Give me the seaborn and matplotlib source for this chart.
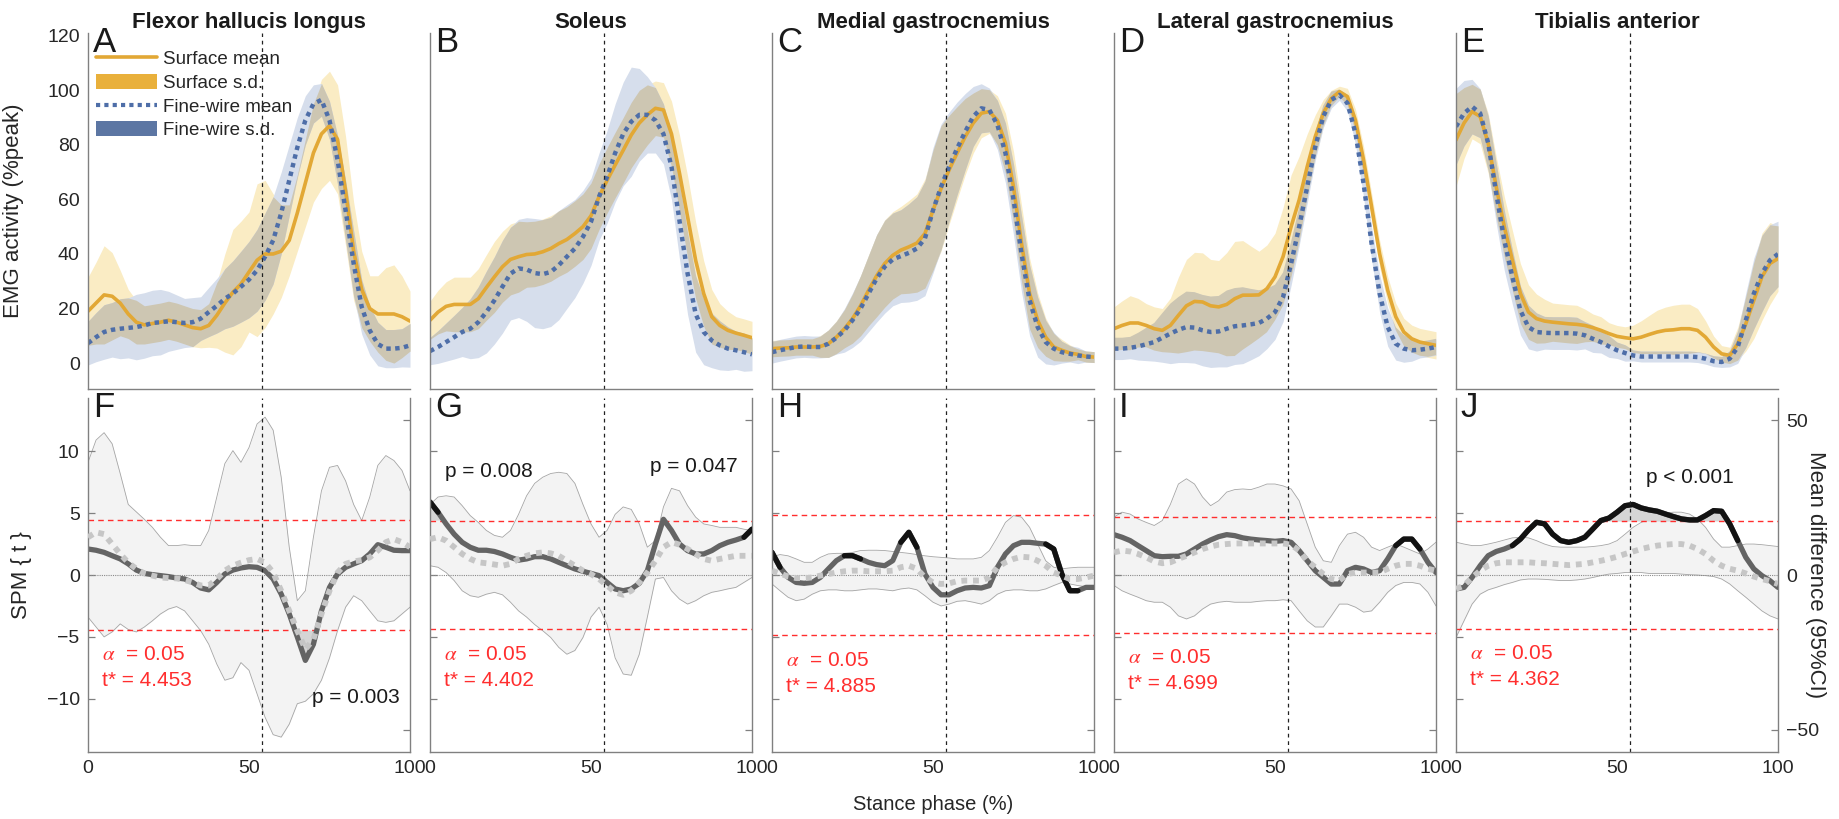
import numpy as np
import matplotlib
matplotlib.use("Agg")
import matplotlib.pyplot as plt
import seaborn as sns
from matplotlib.lines import Line2D
from matplotlib.patches import Patch

# ---------------- data ----------------
stance = np.array([0, 2.5, 5, 7.5, 10, 12.5, 15, 17.5, 20, 22.5, 25, 27.5, 30, 32.5, 35, 37.5, 40,
                   42.5, 45, 47.5, 50, 52.5, 55, 57.5, 60, 62.5, 65, 67.5, 70, 72.5, 75, 77.5, 80,
                   82.5, 85, 87.5, 90, 92.5, 95, 97.5, 100])

muscles = ["Flexor hallucis longus", "Soleus", "Medial gastrocnemius",
           "Lateral gastrocnemius", "Tibialis anterior"]
top_letters = ["A", "B", "C", "D", "E"]
bottom_letters = ["F", "G", "H", "I", "J"]
toe_off = 54

# surface / fine-wire EMG (%peak)
surf_mean_fhl = [19, 22, 25, 24.5, 22, 18, 15, 14, 14.5, 15, 15.7, 15, 14, 13, 12.6, 13.8, 17.5, 22, 26, 29, 33.4, 37.7, 40, 40, 41, 45, 55, 66, 77, 84, 87, 82, 63, 41, 27, 20, 18, 18, 18, 17, 15.4]
surf_sd_fhl = [12.5, 15, 18, 16, 12, 9, 8, 7, 7, 7, 7, 7, 7, 7, 7, 8, 12, 18, 23, 23, 22, 28, 27, 22, 17, 13, 14, 16, 18, 20, 20, 20, 20, 18, 14, 12, 14, 17, 18, 15, 11]
fw_mean_fhl = [7.3, 9.5, 11.4, 12.2, 12.6, 12.9, 13.2, 13.8, 14.7, 15, 15.3, 15, 14.7, 15, 16.3, 18.7, 21, 23.6, 25.5, 28, 30.6, 34, 39, 45, 55, 67, 79, 89, 95, 96.5, 89, 74.5, 56, 36.5, 20.6, 12, 7, 5.3, 5.3, 5.6, 6.5]
fw_sd_fhl = [8, 9, 10, 10, 11, 11, 12, 12, 12, 12, 11, 10, 9, 9, 8, 9, 10, 11, 12, 13, 14, 15, 16, 16, 15, 13, 11, 9, 7, 6, 7, 9, 11, 12, 10, 9, 8, 7, 7, 7, 8]

surf_mean_sol = [15.7, 18.7, 20.8, 21.5, 21.5, 21.5, 23.6, 27.7, 31.6, 35.3, 38, 39, 39.8, 40, 40.8, 42, 43.8, 45.3, 47.5, 50, 54, 61, 67, 72.6, 78, 83.6, 88, 91, 93.4, 92.8, 84, 69.5, 53.6, 37.7, 25.5, 17, 13.8, 12, 11, 10.2, 9.3]
surf_sd_sol = [7, 8, 9, 10, 10, 10, 11, 12, 13, 13, 13, 13, 12, 12, 12, 12, 12, 12, 12, 12, 12, 12, 12, 12, 12, 12, 12, 11, 10, 10, 12, 14, 15, 14, 12, 10, 8, 7, 6, 6, 6]
fw_mean_sol = [4.4, 5.9, 7.7, 9.5, 11.4, 12.6, 15, 18.7, 23, 28, 32.8, 34.7, 34.3, 33, 32.6, 33.4, 35.9, 39, 42, 46.3, 51.8, 61, 68.3, 77, 84, 88.5, 91, 91, 89, 84, 72, 52, 32.8, 18, 11.4, 8.3, 6.5, 5.3, 4.7, 4, 3.2]
fw_sd_sol = [5, 6, 7, 8, 9, 11, 13, 15, 16, 17, 17, 18, 19, 20, 20, 20, 20, 19, 18, 17, 16, 16, 17, 18, 19, 20, 17, 14, 12, 11, 12, 14, 15, 14, 12, 10, 9, 8, 7, 7, 6]

surf_mean_mg = [5.3, 5.5, 5.6, 5.9, 5.9, 5.9, 6.1, 7.1, 9.5, 12.6, 16.3, 21, 26.7, 32, 36.5, 39.5, 41.4, 42.6, 44, 47.5, 56, 64, 70.8, 77, 83, 88, 91.6, 92.2, 89, 80.6, 64.6, 43.8, 25.5, 15.7, 9.5, 5.9, 4.7, 3.7, 3.2, 2.4, 2.2]
surf_sd_mg = [3, 3, 3, 3, 3, 3, 4, 5, 6, 7, 9, 11, 13, 15, 16, 16, 16, 17, 18, 20, 22, 23, 20, 17, 14, 11, 9, 8, 9, 11, 13, 14, 13, 10, 7, 5, 4, 3, 2, 2, 2]
fw_mean_mg = [4, 4.7, 5.3, 5.9, 6.1, 5.9, 5.9, 7.1, 9.3, 12, 15.7, 20, 25.5, 31, 35.3, 38, 39.2, 40.4, 42, 45.7, 56, 64.6, 72, 78.7, 84.8, 90.4, 93.4, 92.8, 87.3, 77, 60, 40, 23, 13.2, 7.7, 5.3, 4, 3.4, 2.8, 2.4, 2.2]
fw_sd_mg = [4, 4, 4, 4, 4, 4, 4, 5, 6, 8, 10, 12, 14, 16, 17, 17, 17, 18, 19, 21, 23, 23, 20, 17, 14, 11, 9, 8, 9, 11, 13, 14, 13, 11, 8, 6, 4, 3, 3, 2, 2]

surf_mean_lg = [12.6, 13.8, 14.7, 14.7, 13.8, 12.6, 12, 13.8, 17.5, 21, 22.6, 22.4, 21, 20.6, 21.5, 23.6, 24.9, 24.9, 25, 27.3, 31.6, 39, 50, 59.8, 72, 83, 91.6, 97, 99.5, 97.7, 89, 74.5, 57.3, 40, 26.7, 17, 11.4, 8.9, 7.7, 7.1, 6.5]
surf_sd_lg = [8, 9, 10, 9, 8, 8, 8, 10, 14, 17, 18, 18, 17, 17, 19, 21, 20, 18, 16, 16, 16, 18, 19, 16, 12, 8, 5, 3, 2, 3, 4, 5, 5, 5, 5, 5, 5, 5, 5, 5, 5]
fw_mean_lg = [5.3, 5.3, 5.6, 6.1, 6.9, 7.7, 9.3, 10.8, 12.2, 13.2, 13, 12, 11.4, 11.6, 12.6, 13.5, 13.8, 14.2, 14.7, 16.3, 18.7, 24.2, 36.5, 50, 64.6, 79.3, 90.4, 96.5, 98.3, 95.3, 84.2, 65.9, 43.8, 25.5, 13.2, 7.1, 5.3, 4.7, 4.9, 5.3, 5.9]
fw_sd_lg = [4, 4, 4, 5, 6, 7, 9, 11, 12, 13, 13, 13, 13, 13, 14, 14, 14, 13, 12, 11, 10, 9, 8, 7, 6, 5, 4, 3, 2, 3, 4, 5, 6, 7, 7, 6, 5, 4, 3, 3, 3]

surf_mean_ta = [81.8, 88, 92.2, 90.4, 80.6, 64.6, 50, 37.7, 25.5, 18.7, 16.3, 15.4, 15, 14.7, 14.4, 14.2, 13.8, 13, 12, 10.8, 9.8, 9.3, 8.9, 9.5, 10.5, 11.4, 12, 12.2, 12.6, 12.6, 12, 9.5, 5.9, 3.4, 2.8, 7.1, 14.4, 23, 31.6, 36.5, 38.3]
surf_sd_ta = [17, 13, 10, 10, 11, 11, 11, 11, 11, 10, 9, 8, 7, 7, 7, 7, 6, 5, 5, 4, 4, 4, 5, 6, 7, 8, 8.5, 9, 9, 9, 8, 6, 4, 3, 3, 6, 10, 14, 16, 15, 12]
fw_mean_ta = [86.7, 91.6, 94, 91.6, 80.6, 62.2, 45, 31.6, 19.3, 13.2, 11.4, 11.1, 11, 11, 11, 10.8, 10.2, 8.9, 7.7, 6.1, 4.7, 3.7, 2.8, 2.4, 2.4, 2.4, 2.4, 2.4, 2.4, 2.4, 2.2, 1.6, 0.7, 0.4, 1.6, 5.9, 15.7, 25.5, 32.8, 37.7, 40]
fw_sd_ta = [14, 12, 10, 9, 10, 11, 11, 10, 9, 8, 7, 6, 6, 6, 6, 6, 5, 5, 4, 4, 3, 3, 2, 2, 2, 2, 2, 2, 2, 2, 2, 2, 2, 2, 3, 6, 10, 13, 14, 13, 12]

# SPM {t}
spm_fhl = [2.1, 2.0, 1.83, 1.56, 1.3, 0.9, 0.4, 0.13, 0.03, -0.05, -0.13, -0.24, -0.32, -0.6, -1.05, -1.2, -0.6, 0.08, 0.4, 0.57, 0.67, 0.62, 0.35, -0.32, -1.54, -3.15, -5.0, -6.9, -5.6, -2.9, -1.0, 0.08, 0.62, 0.9, 1.16, 1.7, 2.45, 2.24, 2.0, 1.97, 1.97]
spm_sol = [5.9, 5.07, 4.13, 3.3, 2.64, 2.24, 2.0, 2.0, 1.9, 1.7, 1.43, 1.2, 1.3, 1.48, 1.48, 1.3, 1.02, 0.75, 0.49, 0.3, 0.13, -0.05, -0.6, -1.13, -1.27, -1.13, -0.67, 0.35, 2.5, 4.5, 3.6, 2.5, 1.97, 1.7, 1.7, 1.97, 2.37, 2.64, 2.83, 3.05, 3.7]
spm_mg = [1.83, 0.62, -0.19, -0.6, -0.67, -0.6, -0.19, 0.49, 1.16, 1.56, 1.56, 1.3, 1.02, 0.84, 0.75, 1.16, 2.64, 3.45, 2.24, 0.08, -1.0, -1.6, -1.6, -1.27, -1.05, -1.0, -1.05, -0.86, 0.62, 1.7, 2.37, 2.64, 2.64, 2.56, 2.5, 2.1, 0.08, -1.27, -1.27, -1.0, -1.0]
spm_lg = [3.26, 3.05, 2.78, 2.37, 1.97, 1.56, 1.48, 1.51, 1.51, 1.7, 2.1, 2.5, 2.83, 3.1, 3.26, 3.18, 3.0, 2.9, 2.83, 2.78, 2.72, 2.78, 2.64, 1.97, 1.16, 0.35, -0.19, -0.73, -0.73, 0.35, 0.62, 0.49, 0.2, 0.35, 1.3, 2.37, 2.9, 2.9, 2.1, 1.02, 0.2]
spm_ta = [-1.13, -1.0, -0.19, 0.75, 1.56, 1.9, 2.1, 2.37, 2.9, 3.64, 4.26, 4.13, 3.3, 2.78, 2.64, 2.78, 3.05, 3.72, 4.4, 4.6, 5.07, 5.6, 5.7, 5.42, 5.26, 5.15, 4.93, 4.72, 4.53, 4.45, 4.45, 4.8, 5.2, 5.15, 4.13, 2.78, 1.43, 0.49, -0.05, -0.46, -1.0]
t_crit = [4.453, 4.402, 4.885, 4.699, 4.362]
dark_spans = [[], [(0, 2.5), (97.5, 100)], [(0, 2.5), (22.5, 27.5), (40, 45), (85, 95)],
              [(87.5, 95)], [(17.5, 87.5)]]
p_labels = [[("p = 0.003", 69.5, -9.9)], [("p = 0.008", 4.7, 8.4), ("p = 0.047", 68.3, 8.8)],
            [], [], [("p < 0.001", 59, 7.9)]]

# mean difference (surface - fine-wire) with 95% CI
md_fhl = [12.2, 13.8, 13.2, 10, 6.8, 4, 2, 0.5, -0.2, -0.8, -1, -1.1, -1.6, -2.4, -3.4, -3.4, -1.3, 1.4, 3, 4, 4.8, 5.2, 4, 0.8, -5.1, -11.6, -18, -24, -20.8, -12.6, -5.1, 0.8, 3.6, 4.4, 4.8, 5.7, 7.9, 10.6, 11.6, 10.6, 9]
ci_hi_fhl = [36.4, 43.6, 46, 42.4, 32.8, 22.8, 20.4, 18, 15.4, 12.2, 9.5, 9.5, 9.8, 9.5, 9.5, 14.4, 25.2, 36, 40.2, 36.4, 41.2, 48.8, 51, 46.8, 31.6, 9, -8.3, -5.1, 12.2, 27.2, 34.8, 35.4, 30.4, 22.8, 17.6, 25.2, 35.4, 38.6, 37, 33.8, 27.2]
ci_lo_fhl = [-13.6, -16.8, -20, -18.4, -15.8, -17.6, -18.4, -16.8, -14.8, -12.6, -11, -10.2, -11.6, -14.8, -18, -22.4, -28.8, -34, -33.2, -28.3, -30.8, -38.4, -46, -51.6, -52.4, -48.2, -41.6, -40.8, -38.4, -34, -26.8, -18, -10.4, -6.7, -8.3, -11.6, -14.8, -15.3, -14.8, -12.6, -10.4]

md_sol = [11.6, 12.2, 11.1, 9, 6.8, 5.2, 4.1, 3.8, 3.4, 3, 3.6, 5.2, 6.2, 7, 7.3, 7, 6.2, 4.6, 3, 1.4, 0.3, -1.3, -3.4, -5.6, -6.4, -5.1, -2.4, 0.8, 4.6, 9, 10.6, 9.8, 8.4, 6.8, 5.2, 4.6, 5.2, 5.7, 6.2, 6.2, 6.2]
ci_hi_sol = [22.8, 25.2, 25.6, 25.2, 22.4, 19.2, 17, 14.4, 12.8, 12.2, 14.4, 19.6, 25.6, 29.6, 31.6, 32.8, 33.2, 32.8, 29.6, 22.8, 16.5, 12.2, 14.4, 19.6, 22, 21.2, 16.5, 9, 11.1, 22, 28, 27.2, 22.4, 18.7, 16.5, 16, 15.4, 15.4, 15.4, 14.8, 14.4]
ci_lo_sol = [3, 2.5, 0.8, -1.8, -5.1, -6.7, -7.2, -6.2, -5.6, -6.4, -8.8, -11.6, -13.6, -16, -18, -20.2, -23.4, -25.6, -24.4, -20.2, -13.6, -10.4, -16, -26.8, -32, -32.4, -25.6, -13.6, -1.3, -0.8, -5.1, -7.8, -9.4, -8.3, -6.7, -5.6, -5.1, -4.5, -4, -2.4, -0.8]

md_mg = [1.4, 0.5, -0.5, -1, -1, -0.8, -0.2, 0.3, 0.8, 1.2, 1.4, 1.4, 1.2, 1.2, 1.2, 1.4, 2.5, 3, 2, -0.8, -2.4, -2.9, -2.7, -2, -1.8, -1.8, -1.8, -0.8, 2.5, 4.1, 5.2, 5.9, 5.7, 4.6, 3, 0.8, -0.2, -1.3, -1.3, -0.8, -0.2]
ci_hi_mg = [5.9, 6.6, 6.2, 5.2, 4.1, 4.1, 5.7, 6.8, 7, 7, 7.3, 7.9, 8, 8, 7.9, 7.6, 7.3, 7, 6.6, 6.2, 5.9, 5.7, 5.5, 5.2, 5.2, 5.2, 5.7, 7.9, 12.2, 17, 19.2, 18.7, 15.4, 10, 4.6, 2.5, 2, 2.3, 2.5, 2.5, 2.5]
ci_lo_mg = [-2.9, -5.1, -7.2, -8.3, -7.8, -6.2, -5.1, -4.8, -4.8, -5.1, -5.1, -4.8, -4.5, -4.5, -4.8, -5.1, -4.5, -4.2, -4.8, -6.7, -8.8, -10, -9.4, -8.5, -8.3, -8.8, -9.4, -8.3, -6.2, -5.1, -4.8, -4.8, -5.1, -5.1, -4.5, -3.4, -2.4, -2.9, -3.4, -3.8, -4]

md_lg = [7.3, 7.9, 7.6, 6.8, 5.7, 4.4, 3.8, 4.1, 5.2, 6.2, 7.3, 8.4, 9.2, 9.8, 10, 10.2, 10.2, 10.2, 10.2, 10.2, 10.2, 10.2, 9.8, 7.9, 4.6, 2.5, 0.3, -1.3, -1.8, 0.3, 0.8, 0.8, 0.8, 0.8, 2, 3, 3.6, 3.6, 3, 2, 1.4]
ci_hi_lg = [18.7, 20.3, 19.7, 18.1, 17, 16, 17.6, 22.8, 29.4, 31.1, 29.4, 25.2, 22.4, 24, 26.8, 27.6, 27.8, 27.6, 28.4, 29.4, 29.4, 28.8, 27.8, 24, 16.5, 9, 4.6, 4.1, 9.5, 13.2, 13.8, 12.2, 9, 7.9, 9, 10, 9, 7.9, 6.8, 8.4, 10.6]
ci_lo_lg = [-3.4, -5.1, -6.2, -7.2, -8.3, -8.8, -8.8, -10.4, -13.2, -14.2, -13.2, -11, -9.4, -8.8, -8.5, -8.8, -8.8, -8.8, -8.5, -8.3, -8.3, -8, -8.3, -11.6, -14.8, -16.8, -16.8, -13.2, -9.4, -9.4, -10.4, -12, -11.6, -8.8, -5.6, -3.4, -2.4, -2.4, -2.9, -5.6, -10]

md_ta = [-4.5, -3.4, -0.8, 1.4, 3, 3.8, 4.1, 4.1, 4.1, 4.1, 3.9, 3.8, 3.6, 3.4, 3.2, 3.4, 3.6, 4.1, 4.6, 5.2, 5.9, 6.8, 7.6, 8.4, 9, 9.5, 9.8, 10, 10, 9.5, 8.4, 6.8, 4.6, 3, 2, 1.4, 0.5, -0.5, -1.3, -2, -2.9]
ci_hi_ta = [10.6, 10, 9.5, 9.5, 10, 10.6, 11.3, 12, 12.2, 12, 11.1, 10, 9.2, 9, 9, 9, 9, 9.2, 9.5, 10, 11.1, 13.2, 15.4, 17, 18.1, 19.2, 20, 20.3, 20.3, 19.7, 18.1, 15.4, 11.6, 9, 9, 9.5, 10, 10, 9.8, 9.5, 9.2]
ci_lo_ta = [-20.2, -14.8, -9.4, -6.2, -4.8, -4, -3.1, -2.4, -1.6, -1.3, -1.3, -1.4, -1.6, -1.8, -1.8, -1.6, -1.3, -0.8, -0.2, 0.3, 0.5, 0.8, 0.8, 0.8, 0.5, 0.5, 0.5, 0.5, 0.3, 0.1, 0, -0.2, -0.5, -1.3, -2.9, -5.1, -7.2, -9.4, -11.6, -13.2, -14.2]

surf_means = [surf_mean_fhl, surf_mean_sol, surf_mean_mg, surf_mean_lg, surf_mean_ta]
surf_sds = [surf_sd_fhl, surf_sd_sol, surf_sd_mg, surf_sd_lg, surf_sd_ta]
fw_means = [fw_mean_fhl, fw_mean_sol, fw_mean_mg, fw_mean_lg, fw_mean_ta]
fw_sds = [fw_sd_fhl, fw_sd_sol, fw_sd_mg, fw_sd_lg, fw_sd_ta]
spms = [spm_fhl, spm_sol, spm_mg, spm_lg, spm_ta]
mds = [md_fhl, md_sol, md_mg, md_lg, md_ta]
ci_his = [ci_hi_fhl, ci_hi_sol, ci_hi_mg, ci_hi_lg, ci_hi_ta]
ci_los = [ci_lo_fhl, ci_lo_sol, ci_lo_mg, ci_lo_lg, ci_lo_ta]

# ---------------- style ----------------
sns.set_theme(style="white")
plt.rcParams["font.family"] = ["Liberation Sans", "DejaVu Sans"]
plt.rcParams["mathtext.fontset"] = "stix"

ORANGE = "#E2A835"
BLUE = "#4E6EA8"
Y_BAND = "#FAECC4"
B_BAND = "#D6DEEC"
OV_BAND = "#CDC6B2"
SPINE = "#808080"
TXT = "#262626"
RED = "#FF2E2E"

W, H = 1839, 819
fig = plt.figure(figsize=(W / 100, H / 100), dpi=100)
lefts = [88, 430, 772, 1114, 1456]
pw = 322


def style_ticks(ax):
    ax.tick_params(axis="both", which="both", direction="in", length=5, width=0.9,
                   colors=SPINE, labelcolor=TXT, labelsize=14, pad=6)
    for s in ax.spines.values():
        s.set_color(SPINE)
        s.set_linewidth(1.0)


x = stance
for i in range(5):
    L = lefts[i]
    # ---------- top row ----------
    ax = fig.add_axes([L / W, 1 - 389 / H, pw / W, 356 / H])
    sm = np.array(surf_means[i]); ss = np.array(surf_sds[i])
    fm = np.array(fw_means[i]); fs = np.array(fw_sds[i])
    ax.fill_between(x, sm - ss, sm + ss, color=Y_BAND, lw=0)
    ax.fill_between(x, fm - fs, fm + fs, color=B_BAND, lw=0)
    lo = np.maximum(sm - ss, fm - fs)
    hi = np.minimum(sm + ss, fm + fs)
    ax.fill_between(x, lo, hi, where=hi > lo, interpolate=True, color=OV_BAND, lw=0)
    sns.lineplot(x=x, y=sm, ax=ax, color=ORANGE, linewidth=2.6)
    sns.lineplot(x=x, y=fm, ax=ax, color=BLUE, linewidth=3.2)
    ax.lines[-1].set_linestyle((0, (1, 1)))
    ax.axvline(toe_off, color="#222222", lw=0.9, ls=(0, (3, 3)))
    ax.set_xlim(0, 100)
    ax.set_ylim(-9.5, 121)
    ax.set_xticks([0, 50, 100])
    ax.set_yticks([0, 20, 40, 60, 80, 100, 120])
    style_ticks(ax)
    ax.spines["top"].set_visible(False)
    ax.spines["right"].set_visible(False)
    ax.tick_params(labelbottom=False, labelleft=(i == 0))
    ax.set_xlabel("")
    ax.set_ylabel("")
    ax.set_title(muscles[i], fontsize=16, fontweight="bold", color="#1a1a1a", pad=3)
    ax.text(0.015, 1.02, top_letters[i], transform=ax.transAxes, fontsize=25,
            va="top", ha="left", color="#1a1a1a")
    if i == 0:
        ax.set_ylabel("EMG activity (%peak)", fontsize=16, color=TXT)
        ax.yaxis.set_label_coords(-0.2, 0.5)
        handles = [Line2D([0], [0], color=ORANGE, lw=2.6),
                   Patch(facecolor="#E9B03B", edgecolor="none"),
                   Line2D([0], [0], color=BLUE, lw=3.0, ls=(0, (1, 1))),
                   Patch(facecolor="#5C76A3", edgecolor="none")]
        labels = ["Surface mean", "Surface s.d.", "Fine-wire mean", "Fine-wire s.d."]
        leg = ax.legend(handles, labels, loc="upper left", bbox_to_anchor=(0.0, 0.972),
                        frameon=False, fontsize=13.5, handlelength=3.3, handletextpad=0.3,
                        labelspacing=0.3, handleheight=0.85, borderaxespad=0, borderpad=0.4)
        for t in leg.get_texts():
            t.set_color(TXT)

    # ---------- bottom row ----------
    axb = fig.add_axes([L / W, 1 - 752 / H, pw / W, 354 / H])
    ax_ci = axb.twinx()
    ax_md = axb.twinx()
    ax_ci.set_zorder(1); axb.set_zorder(2); ax_md.set_zorder(3)
    ax_ci.patch.set_visible(True); ax_ci.patch.set_facecolor("white")
    axb.patch.set_visible(False); ax_md.patch.set_visible(False)

    lo_ci = np.array(ci_los[i]); hi_ci = np.array(ci_his[i])
    ax_ci.fill_between(x, lo_ci, hi_ci, color="#F3F3F3", lw=0)
    ax_ci.plot(x, lo_ci, color="#A5A5A5", lw=0.6)
    ax_ci.plot(x, hi_ci, color="#A5A5A5", lw=0.6)

    t = np.array(spms[i]); tc = t_crit[i]
    axb.fill_between(x, t, tc, where=t > tc, interpolate=True, color="#D5D5D5", lw=0)
    axb.fill_between(x, t, -tc, where=t < -tc, interpolate=True, color="#D5D5D5", lw=0)
    axb.axhline(0, color="#8a8a8a", lw=0.8, ls=(0, (1, 1)))
    axb.axhline(tc, color=RED, lw=1.0, ls=(0, (4, 3)))
    axb.axhline(-tc, color=RED, lw=1.0, ls=(0, (4, 3)))
    sns.lineplot(x=x, y=t, ax=axb, color="#646464", linewidth=3.8)
    for (a, b) in dark_spans[i]:
        m = (x >= a) & (x <= b)
        sns.lineplot(x=x[m], y=t[m], ax=axb, color="#121212", linewidth=3.8)
    axb.axvline(toe_off, color="#222222", lw=0.9, ls=(0, (3, 3)))

    sns.lineplot(x=x, y=np.array(mds[i]), ax=ax_md, color="#C6C6C6", linewidth=4.2)
    ax_md.lines[-1].set_linestyle((0, (1, 1)))

    axb.set_xlim(0, 100)
    axb.set_ylim(-14.3, 14.3)
    ax_ci.set_ylim(-57.2, 57.2)
    ax_md.set_ylim(-57.2, 57.2)
    axb.set_xticks([0, 50, 100])
    axb.set_yticks([-10, -5, 0, 5, 10])
    ax_ci.set_yticks([-50, 0, 50])
    style_ticks(axb)
    style_ticks(ax_ci)
    axb.spines["top"].set_visible(False)
    axb.spines["right"].set_visible(False)
    for s in ["top", "left", "bottom"]:
        ax_ci.spines[s].set_visible(False)
    for s in ax_md.spines.values():
        s.set_visible(False)
    ax_md.set_yticks([])
    ax_md.set_ylabel("")
    axb.tick_params(labelleft=(i == 0), right=False)
    ax_ci.tick_params(labelright=(i == 4), left=False, bottom=False, labelbottom=False)
    axb.set_xlabel("")
    axb.set_ylabel("")
    ax_ci.set_ylabel("")
    axb.text(0.015, 1.02, bottom_letters[i], transform=axb.transAxes, fontsize=25,
             va="top", ha="left", color="#1a1a1a")
    axb.text(4.5, -tc - 2.0, r"$\alpha$" + "  = 0.05", color=RED, fontsize=15,
             ha="left", va="center")
    axb.text(4.5, -tc - 4.1, f"t* = {tc:.3f}", color=RED, fontsize=15,
             ha="left", va="center")
    for (txt, px, py) in p_labels[i]:
        axb.text(px, py, txt, color="#1a1a1a", fontsize=15, ha="left", va="center")
    if i == 0:
        axb.set_ylabel("SPM { t }", fontsize=16, color=TXT)
        axb.yaxis.set_label_coords(-0.175, 0.5)
    if i == 4:
        ax_ci.set_ylabel("Mean difference (95%CI)", fontsize=16, color=TXT, rotation=270,
                         va="center")
        ax_ci.yaxis.set_label_coords(1.118, 0.5)

fig.text(933 / W, 1 - 805 / H, "Stance phase (%)", ha="center", va="center",
         fontsize=14.5, color=TXT)

fig.savefig("out.png", dpi=100, facecolor="white")
